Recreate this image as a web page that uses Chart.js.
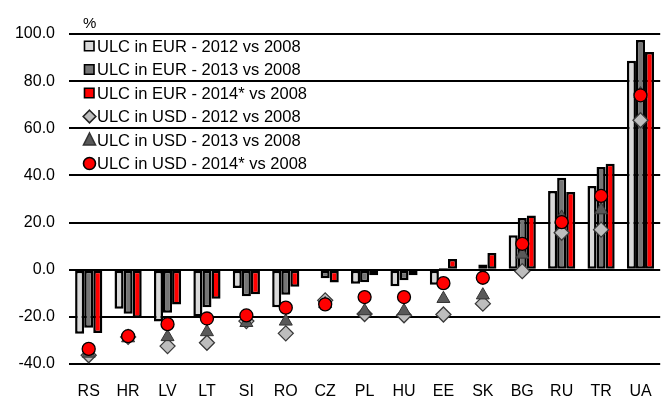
<!DOCTYPE html>
<html>
<head>
<meta charset="utf-8">
<script src="https://cdn.jsdelivr.net/npm/chart.js@4.4.1/dist/chart.umd.min.js"></script>
<style>
  html, body { margin: 0; padding: 0; background: #fff; }
  #chart { display: block; }
</style>
</head>
<body>
<canvas id="chart" width="669" height="403"></canvas>
<script>
// --- データ ---
const countries = ['RS', 'HR', 'LV', 'LT', 'SI', 'RO', 'CZ', 'PL', 'HU', 'EE', 'SK', 'BG', 'RU', 'TR', 'UA'];

const eur2012 = [-27.2, -16.6, -22.0, -19.8, -7.8, -15.9, 0.4, -6.0, -7.0, -6.4, -0.5, 14.6, 33.4, 35.5, 88.6];
const eur2013 = [-24.6, -18.7, -18.3, -15.9, -11.3, -10.6, -3.6, -5.3, -4.5, 0.7, 2.2, 21.9, 39.0, 43.6, 97.5];
const eur2014 = [-26.8, -20.4, -14.8, -12.3, -10.4, -7.2, -5.4, -2.3, -2.3, 4.5, 7.1, 23.0, 33.0, 45.0, 92.4];

const usd2012 = [-36.3, -28.5, -32.4, -31.0, -21.8, -27.0, -13.0, -18.8, -19.3, -19.0, -14.4, -0.6, 15.7, 17.0, 63.4];
const usd2013 = [-35.5, -29.0, -28.5, -26.4, -22.5, -21.9, -14.5, -17.5, -17.5, -12.3, -10.8, 6.5, 22.2, 25.3, 74.5];
const usd2014 = [-33.6, -28.2, -23.1, -20.7, -19.4, -16.1, -14.7, -11.6, -11.6, -5.7, -3.4, 11.0, 20.2, 31.3, 74.0];

const yTicksMin = -40;
const yTicksMax = 100;
const yTicksStep = 20;

const FONT = 'Liberation Sans, Arial, sans-serif';

// 凡例をプロット内左上に描く（データセット順）
const legendPlugin = {
    id: 'insideLegend',
    afterDraw(chart) {
        const ctx = chart.ctx;
        const x0 = 84;
        const yStart = 46;
        const step = 23.5;
        ctx.save();
        ctx.font = '16.5px ' + FONT;
        ctx.textBaseline = 'middle';
        chart.data.datasets.forEach((ds, i) => {
            const cy = yStart + i * step;
            const cx = x0 + 5.5;
            ctx.lineWidth = 1.6;
            ctx.fillStyle = ds.legendFill;
            ctx.strokeStyle = ds.legendStroke;
            ctx.beginPath();
            if (ds.type === 'line') {
                if (ds.pointStyle === 'rectRot') {
                    ctx.moveTo(cx, cy - 6.3);
                    ctx.lineTo(cx + 6.3, cy);
                    ctx.lineTo(cx, cy + 6.3);
                    ctx.lineTo(cx - 6.3, cy);
                    ctx.closePath();
                } else if (ds.pointStyle === 'triangle') {
                    ctx.moveTo(cx, cy - 7);
                    ctx.lineTo(cx + 6, cy + 5);
                    ctx.lineTo(cx - 6, cy + 5);
                    ctx.closePath();
                } else {
                    ctx.arc(cx, cy, 6, 0, Math.PI * 2);
                }
            } else {
                ctx.rect(x0 + 0.5, cy - 4.7, 9.5, 9.5);
            }
            ctx.fill();
            ctx.stroke();
            ctx.fillStyle = '#000';
            ctx.fillText(ds.label, 97, cy + 1);
        });
        // 単位
        ctx.font = '15px ' + FONT;
        ctx.fillText('%', 83, 24);
        ctx.restore();
    }
};

new Chart(document.getElementById('chart'), {
    type: 'bar',
    data: {
        labels: countries,
        datasets: [
            // order: 小さいほど前面／棒グループ内では左
            { label: 'ULC in EUR - 2012 vs 2008', data: eur2012, backgroundColor: '#D9D9D9', borderColor: '#000', borderWidth: 2.5, borderSkipped: false, order: 3, legendFill: '#D9D9D9', legendStroke: '#000' },
            { label: 'ULC in EUR - 2013 vs 2008', data: eur2013, backgroundColor: '#767676', borderColor: '#000', borderWidth: 2.5, borderSkipped: false, order: 4, legendFill: '#767676', legendStroke: '#000' },
            { label: 'ULC in EUR - 2014* vs 2008', data: eur2014, backgroundColor: '#FF0000', borderColor: '#000', borderWidth: 2.5, borderSkipped: false, order: 5, legendFill: '#FF0000', legendStroke: '#000' },
            { type: 'line', label: 'ULC in USD - 2012 vs 2008', data: usd2012, showLine: false, pointStyle: 'rectRot', pointRadius: 7.5, pointBackgroundColor: '#BDBDBD', pointBorderColor: '#3a3a3a', pointBorderWidth: 1.3, order: 2, legendFill: '#BDBDBD', legendStroke: '#222' },
            { type: 'line', label: 'ULC in USD - 2013 vs 2008', data: usd2013, showLine: false, pointStyle: 'triangle', pointRadius: 7.5, pointBackgroundColor: '#595959', pointBorderColor: '#333', pointBorderWidth: 1, order: 1, legendFill: '#595959', legendStroke: '#333' },
            { type: 'line', label: 'ULC in USD - 2014* vs 2008', data: usd2014, showLine: false, pointStyle: 'circle', pointRadius: 6.5, pointBackgroundColor: '#FF0000', pointBorderColor: '#000', pointBorderWidth: 1.3, order: 0, legendFill: '#FF0000', legendStroke: '#000' }
        ]
    },
    options: {
        responsive: false,
        animation: false,
        devicePixelRatio: 1,
        layout: { padding: { top: 34, right: 8, bottom: 0, left: 0 } },
        datasets: {
            bar: { categoryPercentage: 0.69, barPercentage: 1.0 }
        },
        plugins: {
            legend: { display: false },
            tooltip: { enabled: false }
        },
        scales: {
            x: {
                grid: { display: false },
                border: { display: false },
                ticks: { color: '#000', font: { family: FONT, size: 16 }, padding: 10, maxRotation: 0 },
                afterFit(scale) { scale.height = 39; }
            },
            y: {
                min: yTicksMin,
                max: yTicksMax,
                grid: { color: '#000', lineWidth: 2, drawTicks: false },
                border: { display: false },
                ticks: {
                    stepSize: yTicksStep,
                    color: '#000',
                    font: { family: FONT, size: 16 },
                    padding: 14,
                    callback: v => v.toFixed(1)
                },
                afterFit(scale) { scale.width = 69; }
            }
        }
    },
    plugins: [legendPlugin]
});
</script>
</body>
</html>
